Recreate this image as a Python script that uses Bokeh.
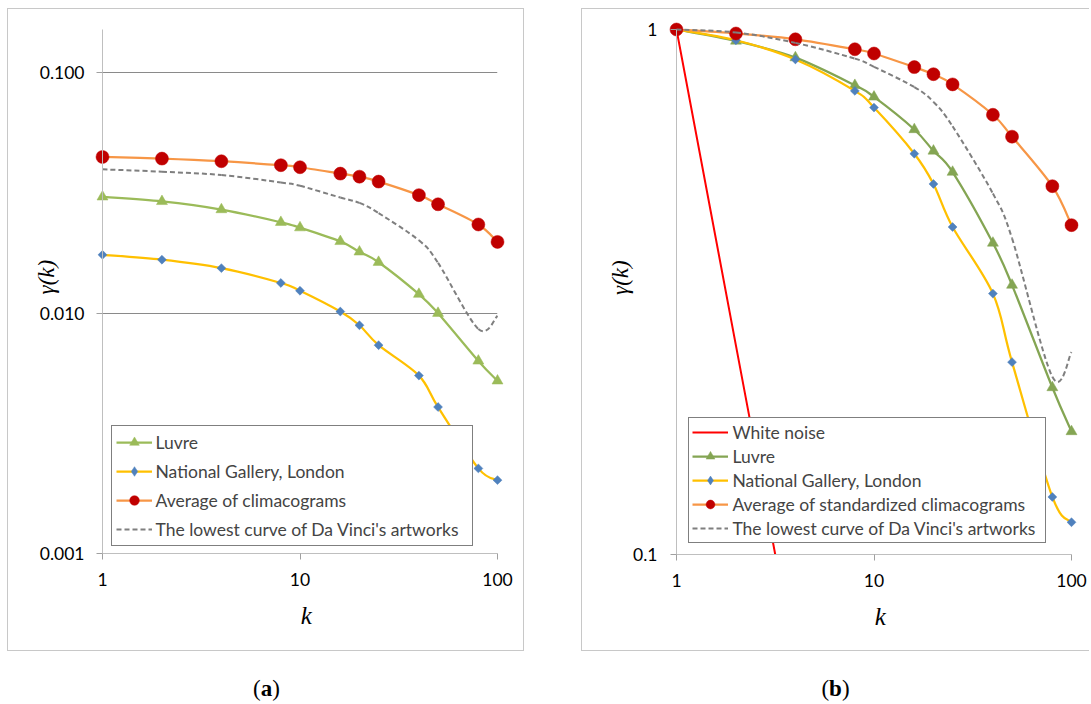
import math
from bokeh.plotting import figure
from bokeh.models import Range1d, FixedTicker, Legend, LegendItem, Div
from bokeh.layouts import row, column
from bokeh.embed import file_html
from bokeh.resources import INLINE

# ---------------- data ----------------
k = [1, 2, 4, 8, 10, 16, 20, 25, 40, 50, 80, 100]

# panel (a): climacograms
a_luvre = [0.0305, 0.0292, 0.0270, 0.0239, 0.0227, 0.0199, 0.0180, 0.0163, 0.0120, 0.0100, 0.00633, 0.00523]
a_national = [0.0175, 0.0167, 0.0154, 0.01336, 0.0124, 0.01016, 0.00891, 0.00736, 0.00550, 0.00407, 0.00226, 0.00202]
a_average = [0.0447, 0.0440, 0.0429, 0.0413, 0.0405, 0.0381, 0.0370, 0.0353, 0.0310, 0.0284, 0.0234, 0.0198]
a_lowest = [0.0397, 0.0388, 0.0376, 0.0350, 0.0339, 0.0303, 0.0288, 0.0261, 0.0201, 0.0162, 0.0086, 0.00975]

# panel (b): standardized climacograms
b_white = [1.0, 0.25, 0.0625, 0.015625, 0.01, 0.0039, 0.0025, 0.0016, 0.000625, 0.0004, 0.000156, 0.0001]
b_luvre = [1.0, 0.951, 0.884, 0.783, 0.744, 0.645, 0.587, 0.535, 0.392, 0.326, 0.208, 0.1715]
b_national = [1.0, 0.954, 0.877, 0.764, 0.710, 0.580, 0.508, 0.4205, 0.314, 0.2325, 0.1287, 0.1152]
b_average = [1.0, 0.9826, 0.958, 0.917, 0.900, 0.848, 0.822, 0.786, 0.688, 0.625, 0.503, 0.424]
b_lowest = [1.0, 0.987, 0.943, 0.880, 0.849, 0.777, 0.728, 0.654, 0.487, 0.400, 0.218, 0.243]

x_ticks = [1, 10, 100]
x_tick_labels = ["1", "10", "100"]
a_y_ticks = [0.001, 0.01, 0.1]
a_y_tick_labels = ["0.001", "0.010", "0.100"]
a_y_top = 0.1516
b_y_ticks = [0.1, 1]
b_y_tick_labels = ["0.1", "1"]

a_labels = ["Luvre", "National Gallery, London", "Average of climacograms",
            "The lowest curve of Da Vinci's artworks"]
b_labels = ["White noise", "Luvre", "National Gallery, London",
            "Average of standardized climacograms", "The lowest curve of Da Vinci's artworks"]
x_label = "k"
y_label = "γ(k)"
captions = ["a", "b"]

# ---------------- style ----------------
FONT = "Lato"
SERIF = "Liberation Serif"
GRID = "#8a8a8a"
AXIS = "#bfbfbf"
BOX = "#c8c8c8"
C_GREEN_A = "#9bbb59"
C_GREEN_B = "#84a553"
C_GOLD = "#ffc000"
C_BLUE = "#4f81bd"
C_ORANGE = "#f79646"
C_RED = "#c00000"
C_DASH = "#7f7f7f"
C_WHITE = "#ff0000"
NAN = float("nan")
NBSP = "\u00a0"


def smooth_bezier(p, xs, ys, t=1.0 / 6.0, **kw):
    """Excel-like smoothed line, control points computed in log-log space from the data points."""
    u = [math.log10(v) for v in xs]
    w = [math.log10(v) for v in ys]
    n = len(u)
    x0, y0, x1, y1, cx0, cy0, cx1, cy1 = ([] for _ in range(8))
    for i in range(n - 1):
        ip = max(i - 1, 0)
        inx = min(i + 2, n - 1)
        x0.append(xs[i]); y0.append(ys[i])
        x1.append(xs[i + 1]); y1.append(ys[i + 1])
        cx0.append(10 ** (u[i] + (u[i + 1] - u[ip]) * t))
        cy0.append(10 ** (w[i] + (w[i + 1] - w[ip]) * t))
        cx1.append(10 ** (u[i + 1] - (u[inx] - u[i]) * t))
        cy1.append(10 ** (w[i + 1] - (w[inx] - w[i]) * t))
    return p.bezier(x0=x0, y0=y0, x1=x1, y1=y1, cx0=cx0, cy0=cy0, cx1=cx1, cy1=cy1,
                    level="guide", **kw)


def make_panel(width, height, mb_left, mb_right, mb_top, mb_bottom, y_lo, y_hi,
               y_ticks, y_tick_labels):
    p = figure(width=width, height=height, x_axis_type="log", y_axis_type="log",
               x_range=Range1d(x_ticks[0], x_ticks[-1]), y_range=Range1d(y_lo, y_hi),
               output_backend="svg", toolbar_location=None,
               min_border_left=mb_left, min_border_right=mb_right,
               min_border_top=mb_top, min_border_bottom=mb_bottom)
    p.outline_line_color = None
    p.background_fill_color = "white"
    p.border_fill_color = "white"
    p.xgrid.visible = False
    p.ygrid.ticker = FixedTicker(ticks=y_ticks[1:])
    p.ygrid.grid_line_color = GRID
    p.ygrid.grid_line_width = 1
    for ax, ticks, labels in ((p.xaxis, x_ticks, x_tick_labels), (p.yaxis, y_ticks, y_tick_labels)):
        ax.ticker = FixedTicker(ticks=ticks)
        ax.major_label_overrides = {t: l for t, l in zip(ticks, labels)}
        ax.axis_line_color = AXIS
        ax.axis_line_width = 1
        ax.major_tick_line_color = "#a0a0a0"
        ax.major_tick_out = 6
        ax.major_tick_in = 0
        ax.minor_tick_line_color = None
        ax.major_label_text_font = FONT
        ax.major_label_text_font_size = "17.5px"
        ax.major_label_text_color = "#000000"
        ax.axis_label_text_font = SERIF
        ax.axis_label_text_font_style = "italic"
        ax.axis_label_text_color = "#000000"
    # leading no-break spaces nudge the centred axis titles to the reference positions
    p.xaxis.axis_label = NBSP * 2 + x_label
    p.xaxis.axis_label_text_font_size = "25px"
    p.xaxis.axis_label_standoff = 13
    p.xaxis.major_label_standoff = 13
    p.yaxis.axis_label = NBSP * 5 + y_label
    p.yaxis.axis_label_text_font_size = "23px"
    p.yaxis.major_label_standoff = 12
    return p


def add_series(p, ys, line_color, marker, marker_color, size, legend_marker=None, angle=0.0,
               dash=None, line_width=2.25):
    kw = dict(line_color=line_color, line_width=line_width)
    if dash:
        kw["line_dash"] = dash
    smooth_bezier(p, k, ys, **kw)
    rs = [p.line(x=[NAN], y=[NAN], **kw)]  # legend sample of the line
    if marker:
        r = p.scatter(x=k, y=ys, marker=marker, size=size, angle=angle, fill_color=marker_color,
                      line_color=marker_color, line_width=0.5, level="guide")
        if legend_marker:
            r = p.scatter(x=[NAN], y=[NAN], marker=legend_marker, size=size,
                          fill_color=marker_color, line_color=marker_color, line_width=0.5)
        rs.append(r)
    return rs


def make_legend(labels, groups, loc, padding, spacing, gh, label_width):
    return Legend(items=[LegendItem(label=l, renderers=r) for l, r in zip(labels, groups)],
                  location=loc, padding=padding, spacing=spacing, glyph_height=gh, glyph_width=36,
                  label_height=20, label_width=label_width, label_standoff=4,
                  label_text_font=FONT, label_text_font_size="17.5px",
                  border_line_color="#000000", border_line_width=1, background_fill_alpha=1.0,
                  margin=0)


# ---------------- panel (a) ----------------
pa = make_panel(517, 643, 94, 28, 20, 99, a_y_ticks[0], a_y_top, a_y_ticks, a_y_tick_labels)
pa.yaxis.axis_label_standoff = -22
ra = [
    add_series(pa, a_luvre, C_GREEN_A, "triangle", C_GREEN_A, 11),
    add_series(pa, a_national, C_GOLD, "square", C_BLUE, 6.3, legend_marker="diamond", angle=math.pi / 4),
    add_series(pa, a_average, C_ORANGE, "circle", C_RED, 13),
    add_series(pa, a_lowest, C_DASH, None, None, 0, dash="5 3", line_width=2),
]
pa.add_layout(make_legend(a_labels, ra, (8.5, 7), 4, 5, 24, 312), "center")

# ---------------- panel (b) ----------------
pb = make_panel(508, 643, 94, 19, 20, 98, b_y_ticks[0], b_y_ticks[-1], b_y_ticks, b_y_tick_labels)
pb.yaxis.axis_label_standoff = -3
pb.yaxis.major_label_standoff = 13
wn = pb.line(x=k, y=b_white, line_color=C_WHITE, line_width=2)
rb = [
    [wn],
    add_series(pb, b_luvre, C_GREEN_B, "triangle", C_GREEN_B, 11),
    add_series(pb, b_national, C_GOLD, "square", C_BLUE, 6.3, legend_marker="diamond", angle=math.pi / 4),
    add_series(pb, b_average, C_ORANGE, "circle", C_RED, 13),
    add_series(pb, b_lowest, C_DASH, None, None, 0, dash="5 3", line_width=2),
]
pb.add_layout(make_legend(b_labels, rb, (12.4, 10.7), 3, 2, 22, 310), "center")

# ---------------- frames & captions ----------------
pa.styles = {"border": f"1px solid {BOX}"}
pb.styles = {"border-top": f"1px solid {BOX}", "border-left": f"1px solid {BOX}",
             "border-bottom": f"1px solid {BOX}"}

cap_style = {"font-family": SERIF, "font-size": "23px", "text-align": "center", "color": "#000"}
div_a = Div(text=f"(<b>{captions[0]}</b>)", width=519, height=26, styles=cap_style, margin=(22, 0, 0, 0))
div_b = Div(text=f"(<b>{captions[1]}</b>)", width=509, height=26, styles=cap_style, margin=(22, 0, 0, 0))

col_a = column(pa, div_a, spacing=0, margin=(8, 0, 0, 7))
col_b = column(pb, div_b, spacing=0, margin=(8, 0, 0, 55))
layout = row(col_a, col_b, spacing=0)

open("out.html", "w").write(file_html(layout, INLINE))
